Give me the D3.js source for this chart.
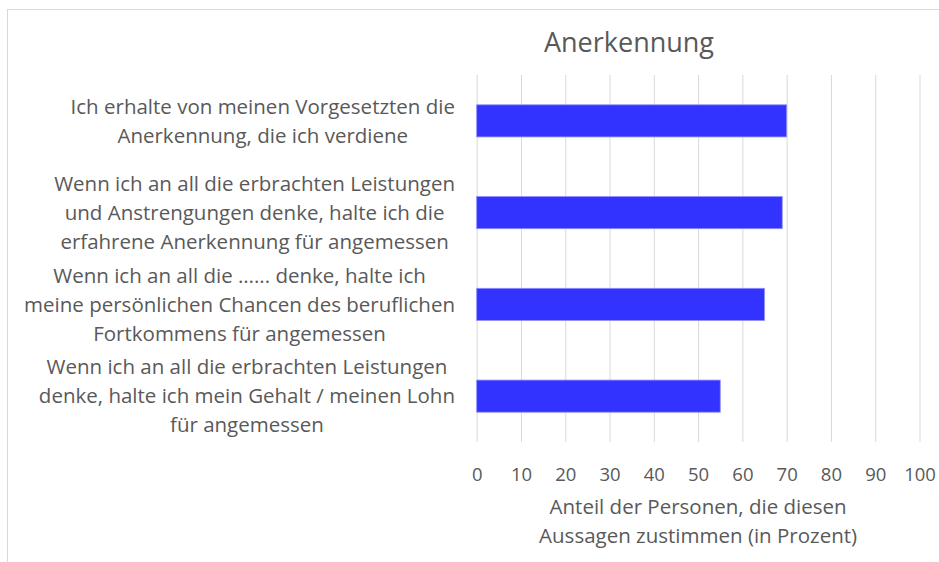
<!DOCTYPE html>
<html>
<head>
<meta charset="utf-8">
<script src="https://cdn.jsdelivr.net/npm/d3@7"></script>
<style>
  body { margin: 0; background: #fff; }
  text { font-family: "Open Sans", "Noto Sans", sans-serif; fill: #595959; }
</style>
</head>
<body>
<div id="chart"></div>
<script>
// data, top to bottom as in the chart
var categories = [
  ["Ich erhalte von meinen Vorgesetzten die", "Anerkennung, die ich verdiene"],
  ["Wenn ich an all die erbrachten Leistungen", "und Anstrengungen denke, halte ich die", "erfahrene Anerkennung für angemessen"],
  ["Wenn ich an all die …... denke, halte ich", "meine persönlichen Chancen des beruflichen", "Fortkommens für angemessen"],
  ["Wenn ich an all die erbrachten Leistungen", "denke, halte ich mein Gehalt / meinen Lohn", "für angemessen"]
];
var values = [70, 69, 65, 55];
var xTicks = [0, 10, 20, 30, 40, 50, 60, 70, 80, 90, 100];
var chartTitle = "Anerkennung";
var axisTitle = ["Anteil der Personen, die diesen", "Aussagen zustimmen (in Prozent)"];

var W = 939, H = 562;
var plot = {left: 476.7, right: 919.5, top: 75, bottom: 442};

var svg = d3.select("#chart").append("svg")
  .attr("width", W)
  .attr("height", H);

// chart area border (runs off the right and bottom edge)
svg.append("rect")
  .attr("x", 7.5).attr("y", 9.5)
  .attr("width", 1000).attr("height", 1000)
  .attr("fill", "none")
  .attr("stroke", "#d9d9d9");

var x = d3.scaleLinear().domain([0, 100]).range([plot.left, plot.right]);
var y = d3.scaleBand()
  .domain(d3.range(categories.length))
  .range([plot.top, plot.bottom])
  .paddingInner(0.65)
  .paddingOuter(0.325);

// gridlines
svg.append("g")
  .attr("transform", "translate(0," + plot.bottom + ")")
  .call(d3.axisBottom(x).tickValues(xTicks).tickSize(-(plot.bottom - plot.top)).tickFormat(""))
  .call(function(g) { g.select(".domain").remove(); })
  .selectAll("line").attr("stroke", "#d9d9d9").attr("stroke-width", 1);

// tick labels
var xAxis = svg.append("g")
  .attr("transform", "translate(0," + plot.bottom + ")")
  .call(d3.axisBottom(x).tickValues(xTicks).tickSize(0).tickPadding(26));
xAxis.select(".domain").remove();
xAxis.selectAll("text")
  .style("font-family", "'Open Sans', sans-serif")
  .style("font-size", "18.5px")
  .attr("fill", "#595959");

// bars
svg.append("g").selectAll("rect")
  .data(values)
  .enter().append("rect")
  .attr("x", x(0))
  .attr("y", function(d, i) { return y(i); })
  .attr("width", function(d) { return x(d) - x(0); })
  .attr("height", y.bandwidth())
  .attr("fill", "#3333ff")
  .attr("stroke", "#8c8cff")
  .attr("stroke-width", 0.8);

// category labels, centered block, right edge near the plot
var lineH = 29;
var labels = svg.append("g").style("font-size", "20.5px");
categories.forEach(function(lines, i) {
  var cy = y(i) + y.bandwidth() / 2;
  var g = labels.append("g");
  var txt = g.selectAll("text")
    .data(lines)
    .enter().append("text")
    .attr("text-anchor", "middle")
    .attr("dy", "0.35em")
    .attr("y", function(d, j) { return cy + (j - (lines.length - 1) / 2) * lineH; })
    .text(function(d) { return d; });
  var maxW = 0;
  txt.each(function() { maxW = Math.max(maxW, this.getComputedTextLength()); });
  txt.attr("x", 455 - maxW / 2);
});

// title
svg.append("text")
  .attr("x", 629)
  .attr("y", 43)
  .attr("dy", "0.35em")
  .attr("text-anchor", "middle")
  .style("font-size", "27px")
  .text(chartTitle);

// axis title
svg.append("g").selectAll("text")
  .data(axisTitle)
  .enter().append("text")
  .attr("x", (plot.left + plot.right) / 2)
  .attr("y", function(d, i) { return 507 + i * 29; })
  .attr("dy", "0.35em")
  .attr("text-anchor", "middle")
  .style("font-size", "20.5px")
  .text(function(d) { return d; });
</script>
</body>
</html>
